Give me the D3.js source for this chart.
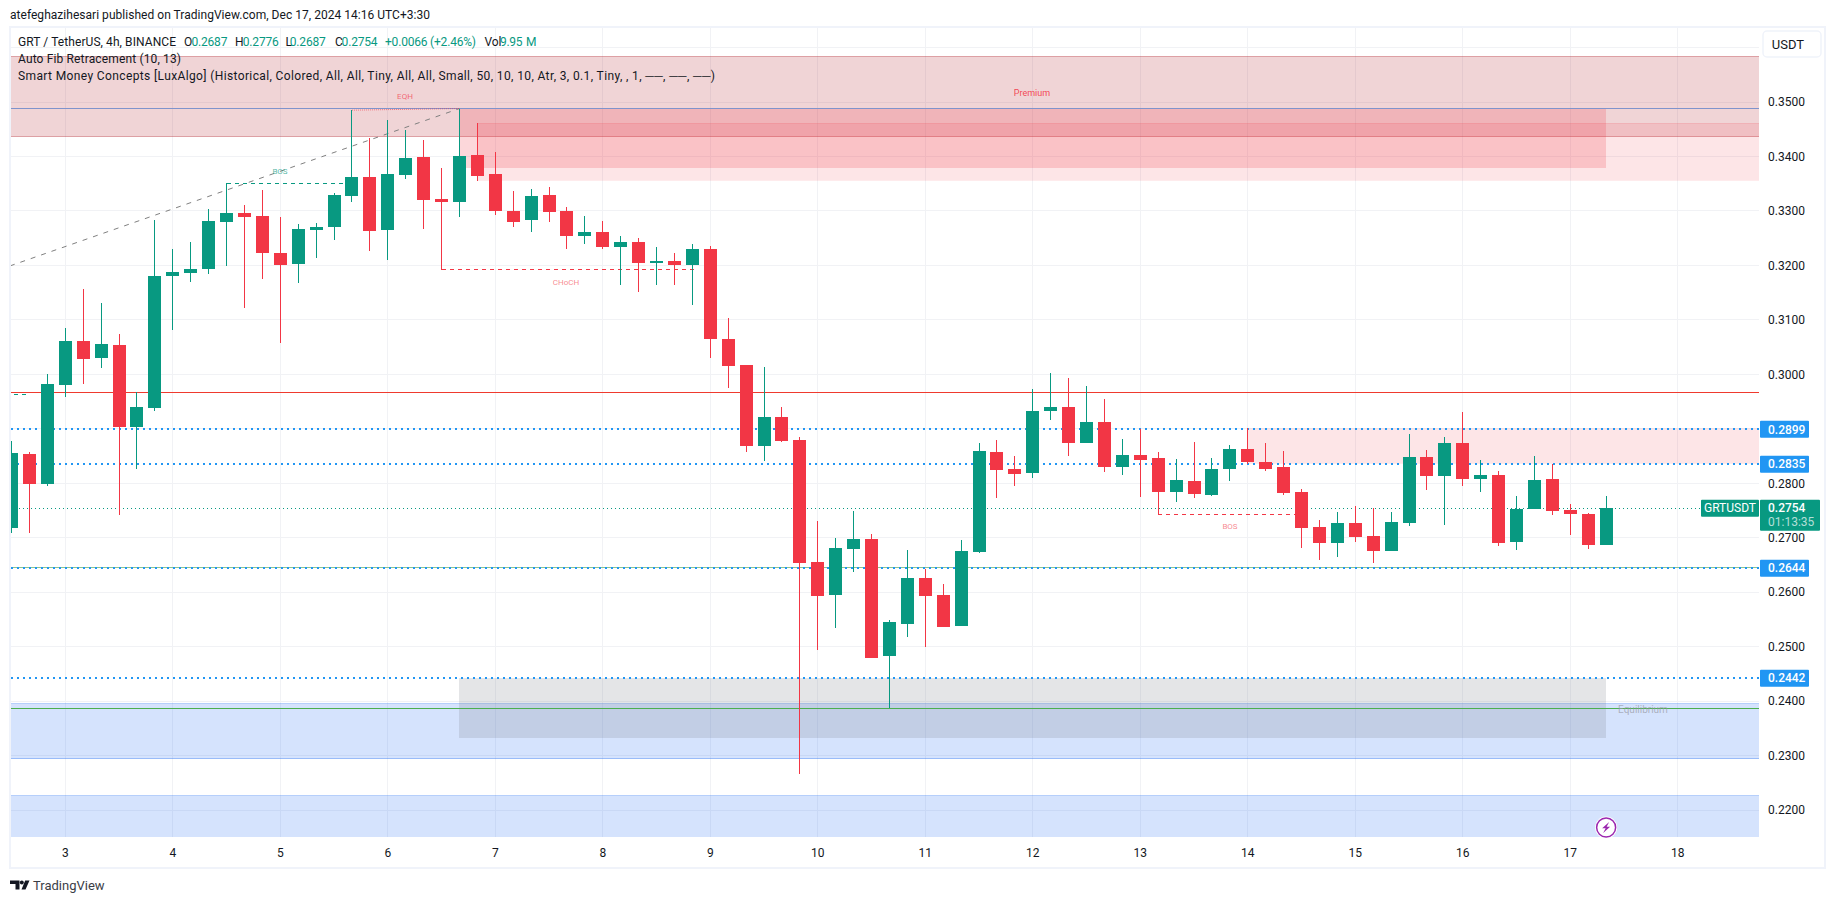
<!DOCTYPE html>
<html>
<head>
<meta charset="utf-8">
<title>GRT / TetherUS</title>
<script src="https://d3js.org/d3.v7.min.js"></script>
<style>
  html, body { margin: 0; padding: 0; background: #fff; overflow: hidden; }
  svg { display: block; font-family: Roboto, sans-serif; }
  .axis text { font-size: 12px; fill: #131722; font-family: Roboto, sans-serif; }
  .axis .domain, .axis line { display: none; }
</style>
</head>
<body>
<svg id="chart" width="1835" height="903"></svg>
<script>

// 4h candles, the first one opens half a day before the "3" tick
var firstCandleDay = 2.5,
  candlesPerDay = 6;

var openPrices = [
  0.2718, 0.2854, 0.2799, 0.2981, 0.3061, 0.3030, 0.3054, 0.2904, 0.2939, 0.3180,
  0.3186, 0.3193, 0.3280, 0.3296, 0.3291, 0.3223, 0.3203, 0.3265, 0.3270, 0.3327,
  0.3362, 0.3265, 0.3366, 0.3399, 0.3322, 0.3316, 0.3403, 0.3368, 0.3300, 0.3283,
  0.3329, 0.3300, 0.3254, 0.3261, 0.3234, 0.3243, 0.3204, 0.3208, 0.3201, 0.3230,
  0.3065, 0.3017, 0.2868, 0.2922, 0.2879, 0.2655, 0.2595, 0.2679, 0.2698, 0.2483,
  0.2541, 0.2626, 0.2595, 0.2538, 0.2674, 0.2857, 0.2826, 0.2819, 0.2933, 0.2940,
  0.2874, 0.2912, 0.2830, 0.2852, 0.2846, 0.2784, 0.2804, 0.2778, 0.2826, 0.2863,
  0.2839, 0.2830, 0.2784, 0.2720, 0.2690, 0.2727, 0.2703, 0.2676, 0.2727, 0.2848,
  0.2813, 0.2874, 0.2808, 0.2815, 0.2692, 0.2753, 0.2808, 0.2751, 0.2743, 0.2687
];

var highPrices = [
  0.2878, 0.2857, 0.3001, 0.3085, 0.3157, 0.3131, 0.3074, 0.2968, 0.3283, 0.3230,
  0.3243, 0.3303, 0.3351, 0.3311, 0.3338, 0.3289, 0.3276, 0.3278, 0.3333, 0.3485,
  0.3434, 0.3467, 0.3449, 0.3430, 0.3379, 0.3488, 0.3461, 0.3408, 0.3337, 0.3340,
  0.3344, 0.3307, 0.3291, 0.3281, 0.3254, 0.3250, 0.3234, 0.3223, 0.3239, 0.3236,
  0.3103, 0.3017, 0.3013, 0.2940, 0.2885, 0.2731, 0.2699, 0.2749, 0.2707, 0.2549,
  0.2677, 0.2642, 0.2615, 0.2696, 0.2874, 0.2879, 0.2850, 0.2973, 0.3002, 0.2993,
  0.2978, 0.2955, 0.2881, 0.2900, 0.2857, 0.2844, 0.2876, 0.2846, 0.2870, 0.2901,
  0.2874, 0.2859, 0.2789, 0.2732, 0.2747, 0.2758, 0.2755, 0.2747, 0.2890, 0.2861,
  0.2885, 0.2931, 0.2843, 0.2822, 0.2777, 0.2850, 0.2835, 0.2762, 0.2745, 0.2776
];

var lowPrices = [
  0.2709, 0.2709, 0.2794, 0.2959, 0.2983, 0.3012, 0.2742, 0.2827, 0.2933, 0.3081,
  0.3169, 0.3184, 0.3199, 0.3122, 0.3175, 0.3057, 0.3168, 0.3214, 0.3247, 0.3316,
  0.3226, 0.3210, 0.3359, 0.3267, 0.3192, 0.3289, 0.3355, 0.3293, 0.3270, 0.3261,
  0.3280, 0.3230, 0.3239, 0.3230, 0.3164, 0.3151, 0.3164, 0.3164, 0.3127, 0.3030,
  0.2975, 0.2857, 0.2841, 0.2876, 0.2266, 0.2494, 0.2534, 0.2637, 0.2479, 0.2387,
  0.2518, 0.2499, 0.2536, 0.2538, 0.2672, 0.2773, 0.2795, 0.2810, 0.2916, 0.2850,
  0.2874, 0.2821, 0.2815, 0.2775, 0.2743, 0.2765, 0.2773, 0.2777, 0.2804, 0.2835,
  0.2822, 0.2778, 0.2681, 0.2659, 0.2665, 0.2692, 0.2654, 0.2676, 0.2721, 0.2788,
  0.2723, 0.2795, 0.2784, 0.2685, 0.2677, 0.2753, 0.2742, 0.2705, 0.2679, 0.2687
];

var closePrices = [
  0.2856, 0.2799, 0.2982, 0.3061, 0.3029, 0.3056, 0.2904, 0.2940, 0.3180, 0.3188,
  0.3193, 0.3281, 0.3296, 0.3289, 0.3223, 0.3201, 0.3267, 0.3270, 0.3329, 0.3362,
  0.3263, 0.3368, 0.3397, 0.3320, 0.3316, 0.3401, 0.3364, 0.3300, 0.3280, 0.3327,
  0.3298, 0.3254, 0.3261, 0.3234, 0.3243, 0.3204, 0.3208, 0.3201, 0.3230, 0.3065,
  0.3015, 0.2868, 0.2922, 0.2878, 0.2654, 0.2593, 0.2681, 0.2698, 0.2479, 0.2545,
  0.2626, 0.2593, 0.2536, 0.2676, 0.2859, 0.2824, 0.2817, 0.2933, 0.2940, 0.2874,
  0.2912, 0.2830, 0.2852, 0.2843, 0.2784, 0.2806, 0.2780, 0.2826, 0.2863, 0.2839,
  0.2826, 0.2782, 0.2718, 0.2690, 0.2727, 0.2701, 0.2676, 0.2729, 0.2848, 0.2813,
  0.2874, 0.2808, 0.2815, 0.2690, 0.2753, 0.2806, 0.2749, 0.2743, 0.2687, 0.2754
];

var priceTicks = [ 0.35, 0.34, 0.33, 0.32, 0.31, 0.30, 0.28, 0.27, 0.26, 0.25, 0.24, 0.23, 0.22 ],
  gridPrices = [ 0.36, 0.35, 0.34, 0.33, 0.32, 0.31, 0.30, 0.29, 0.28, 0.27, 0.26, 0.25, 0.24, 0.23, 0.22 ],
  dayTicks = [ 3, 4, 5, 6, 7, 8, 9, 10, 11, 12, 13, 14, 15, 16, 17, 18 ];

// Horizontal levels shown with a blue tag on the price scale
var levelPrices = [ 0.2899, 0.2835, 0.2644, 0.2442 ];
var lastPrice = 0.2754;

// Fib lines
var fibRedPrice = 0.2967,
  fibBluePrice = 0.3488,
  fibUpperGreenPrice = 0.2646,
  fibLowerGreenPrice = 0.2387;

// Premium / discount boxes running over the whole pane
var premiumTop = 0.3584, premiumBottom = 0.3436;
var discountTops = [ 0.2395, 0.2226 ],
  discountBottoms = [ 0.2294, 0.2149 ];

// Order blocks and shaded boxes
var supplyStartDays = [ 6.8333, 14 ],
  supplyTops = [ 0.3461, 0.2900 ],
  supplyBottoms = [ 0.3356, 0.2837 ];

var upperBoxDays = [ 6.6667, 17.3333 ],
  upperBoxPrices = [ 0.3488, 0.3379 ],
  lowerBoxDays = [ 6.6667, 17.3333 ],
  lowerBoxPrices = [ 0.2442, 0.2332 ];

// Market structure lines: [ startDay, endDay, price ]
var bosUp = [ 4.5, 5.6667, 0.3351 ],
  bosUpLeft = [ 2, 2.6667, 0.2963 ],
  eqh = [ 5.6667, 6.6667, 0.3485, 0.3488 ],
  choch = [ 6.5, 8.8833, 0.3192 ],
  bosDown = [ 13.1667, 14.5, 0.2743 ];

var trendDays = [ 2.485, 6.6667 ],
  trendPrices = [ 0.3199, 0.3488 ];

var legendTitle = 'GRT / TetherUS, 4h, BINANCE',
  fibLegend = 'Auto Fib Retracement (10, 13)',
  smcLegend = 'Smart Money Concepts [LuxAlgo] (Historical, Colored, All, All, Tiny, All, All, Small, 50, 10, 10, Atr, 3, 0.1, Tiny, , 1, ──, ──, ──)',
  publishedText = 'atefeghazihesari published on TradingView.com, Dec 17, 2024 14:16 UTC+3:30';

var green = '#089981',
  red = '#F23645',
  blue = '#2196F3',
  ink = '#131722',
  gridColor = '#f1f2f5';

var svg = d3.select( '#chart' ),
  pane = { left: 11, top: 28, right: 1759, bottom: 837 };

var x = d3.scaleLinear()
  .domain( [ 3, 18 ] )
  .range( [ 65.3, 1677.8 ] );

var y = d3.scaleLinear()
  .domain( [ 0.35, 0.22 ] )
  .range( [ 102, 810 ] );

var candles = openPrices.map( ( o, i ) => {
  return {
    day: firstCandleDay + i / candlesPerDay,
    open: o,
    high: highPrices[ i ],
    low: lowPrices[ i ],
    close: closePrices[ i ]
  };
} );

svg.append( 'defs' ).append( 'clipPath' )
  .attr( 'id', 'pane-clip' )
  .append( 'rect' )
    .attr( 'x', pane.left )
    .attr( 'y', pane.top )
    .attr( 'width', pane.right - pane.left )
    .attr( 'height', pane.bottom - pane.top );

/* Frame */

svg.append( 'rect' )
  .attr( 'x', 10 )
  .attr( 'y', 27 )
  .attr( 'width', 1815 )
  .attr( 'height', 841 )
  .style( 'fill', '#fff' )
  .style( 'stroke', '#f0f3fa' )
  .style( 'stroke-width', 2 );

var plot = svg.append( 'g' ).attr( 'clip-path', 'url(#pane-clip)' );

/* Grid */

plot.selectAll( '.grid-h' )
  .data( gridPrices )
  .enter().append( 'line' )
    .attr( 'class', 'grid-h' )
    .attr( 'x1', pane.left )
    .attr( 'x2', pane.right )
    .attr( 'y1', d => y( d ) )
    .attr( 'y2', d => y( d ) )
    .style( 'stroke', gridColor )
    .style( 'shape-rendering', 'crispEdges' );

plot.selectAll( '.grid-v' )
  .data( dayTicks )
  .enter().append( 'line' )
    .attr( 'class', 'grid-v' )
    .attr( 'x1', d => x( d ) )
    .attr( 'x2', d => x( d ) )
    .attr( 'y1', pane.top )
    .attr( 'y2', pane.bottom )
    .style( 'stroke', gridColor )
    .style( 'shape-rendering', 'crispEdges' );

/* Boxes */

function drawBox( x0, x1, top, bottom, fill, opacity, edge, edgeOpacity ) {
  plot.append( 'rect' )
    .attr( 'x', x0 )
    .attr( 'y', y( top ) )
    .attr( 'width', x1 - x0 )
    .attr( 'height', y( bottom ) - y( top ) )
    .style( 'fill', fill )
    .style( 'fill-opacity', opacity )
    .style( 'shape-rendering', 'crispEdges' );
  if ( edge ) {
    [ top, bottom ].forEach( p => {
      plot.append( 'line' )
        .attr( 'x1', x0 )
        .attr( 'x2', x1 )
        .attr( 'y1', y( p ) )
        .attr( 'y2', y( p ) )
        .style( 'stroke', edge )
        .style( 'stroke-opacity', edgeOpacity )
        .style( 'shape-rendering', 'crispEdges' );
    } );
  }
}

drawBox( pane.left, pane.right, premiumTop, premiumBottom, '#b22833', 0.2, '#b22833', 0.3 );

discountTops.forEach( ( d, i ) => {
  drawBox( pane.left, pane.right, d, discountBottoms[ i ], '#226cf4', 0.19, '#226cf4', 0.33 );
} );

supplyTops.forEach( ( d, i ) => {
  drawBox( x( supplyStartDays[ i ] ), pane.right, d, supplyBottoms[ i ], red, 0.13, red, 0.1 );
} );

drawBox( x( upperBoxDays[ 0 ] ), x( upperBoxDays[ 1 ] ), upperBoxPrices[ 0 ], upperBoxPrices[ 1 ], red, 0.2 );
drawBox( x( lowerBoxDays[ 0 ] ), x( lowerBoxDays[ 1 ] ), lowerBoxPrices[ 0 ], lowerBoxPrices[ 1 ], '#787b86', 0.2 );

/* Levels */

function hline( price, color, width, dash ) {
  plot.append( 'line' )
    .attr( 'x1', pane.left )
    .attr( 'x2', pane.right )
    .attr( 'y1', y( price ) )
    .attr( 'y2', y( price ) )
    .style( 'stroke', color )
    .style( 'stroke-width', width )
    .style( 'stroke-dasharray', dash || null )
    .style( 'shape-rendering', 'crispEdges' );
}

hline( fibBluePrice, '#7f93cc', 1 );
hline( fibRedPrice, '#ef3a2e', 1 );
hline( fibUpperGreenPrice, '#8dc58d', 1 );
hline( fibLowerGreenPrice, '#4caf50', 1 );

levelPrices.forEach( d => hline( d, blue, 2, '2,4' ) );
hline( lastPrice, green, 1, '1,3' );

/* Structure lines */

var trendLine = d3.line()
  .x( d => x( d[ 0 ] ) )
  .y( d => y( d[ 1 ] ) );

plot.append( 'path' )
  .attr( 'd', trendLine( d3.zip( trendDays, trendPrices ) ) )
  .style( 'fill', 'none' )
  .style( 'stroke', '#808080' )
  .style( 'stroke-width', 1 )
  .style( 'stroke-dasharray', '5,6' );

function structure( d, color ) {
  plot.append( 'line' )
    .attr( 'x1', x( d[ 0 ] ) )
    .attr( 'x2', x( d[ 1 ] ) )
    .attr( 'y1', y( d[ 2 ] ) )
    .attr( 'y2', y( d[ 2 ] ) )
    .style( 'stroke', color )
    .style( 'stroke-width', 1 )
    .style( 'stroke-dasharray', '4,4' )
    .style( 'shape-rendering', 'crispEdges' );
}

structure( bosUp, green );
structure( bosUpLeft, green );
structure( choch, red );
structure( bosDown, red );

plot.append( 'line' )
  .attr( 'x1', x( eqh[ 0 ] ) )
  .attr( 'x2', x( eqh[ 1 ] ) )
  .attr( 'y1', y( eqh[ 2 ] ) )
  .attr( 'y2', y( eqh[ 3 ] ) )
  .style( 'stroke', red )
  .style( 'stroke-width', 1 )
  .style( 'stroke-opacity', 0.6 )
  .style( 'stroke-dasharray', '1,1' );

function smallLabel( text, px, py, color, size, opacity ) {
  plot.append( 'text' )
    .attr( 'x', px )
    .attr( 'y', py )
    .attr( 'dy', '0.35em' )
    .attr( 'text-anchor', 'middle' )
    .style( 'font-size', size + 'px' )
    .style( 'fill', color )
    .style( 'fill-opacity', opacity )
    .text( text );
}

smallLabel( 'EQH', 405, 96, red, 8, 0.7 );
smallLabel( 'BOS', 280, 171, green, 8, 0.7 );
smallLabel( 'CHoCH', 566, 282.5, red, 8, 0.6 );
smallLabel( 'BOS', 1230, 526.5, red, 8, 0.6 );
smallLabel( 'Premium', 1032, 93, red, 9, 0.9 );
smallLabel( 'Equilibrium', 1643, 709, '#9598a1', 10, 0.7 );

/* Candles */

var candle = plot.selectAll( '.candle' )
  .data( candles )
  .enter().append( 'g' )
    .attr( 'class', 'candle' )
    .style( 'fill', d => d.close >= d.open ? green : red )
    .style( 'shape-rendering', 'crispEdges' );

candle.append( 'rect' )
  .attr( 'x', d => Math.floor( x( d.day ) ) )
  .attr( 'y', d => y( d.high ) )
  .attr( 'width', 1 )
  .attr( 'height', d => y( d.low ) - y( d.high ) );

candle.append( 'rect' )
  .attr( 'x', d => Math.floor( x( d.day ) ) - 6 )
  .attr( 'y', d => y( Math.max( d.open, d.close ) ) )
  .attr( 'width', 13 )
  .attr( 'height', d => Math.max( 1, Math.abs( y( d.open ) - y( d.close ) ) ) );

/* Axes */

svg.append( 'g' )
  .attr( 'class', 'axis' )
  .attr( 'transform', 'translate(1768,0)' )
  .call( d3.axisRight( y )
    .tickValues( priceTicks )
    .tickSize( 0 )
    .tickPadding( 0 )
    .tickFormat( d3.format( '.4f' ) ) );

svg.append( 'g' )
  .attr( 'class', 'axis' )
  .attr( 'transform', 'translate(-0.5,848)' )
  .call( d3.axisBottom( x )
    .tickValues( dayTicks )
    .tickSize( 0 )
    .tickPadding( 0 )
    .tickFormat( d3.format( 'd' ) ) );

/* Price tags */

var tags = svg.selectAll( '.level-tag' )
  .data( levelPrices )
  .enter().append( 'g' )
    .attr( 'class', 'level-tag' )
    .attr( 'transform', d => 'translate(1760,' + y( d ) + ')' );

tags.append( 'rect' )
  .attr( 'y', -8.5 )
  .attr( 'width', 49 )
  .attr( 'height', 17 )
  .attr( 'rx', 1 )
  .style( 'fill', blue );

tags.append( 'text' )
  .attr( 'x', 8 )
  .attr( 'dy', '0.35em' )
  .style( 'font-size', '12px' )
  .style( 'font-weight', 500 )
  .style( 'fill', '#fff' )
  .text( d => d3.format( '.4f' )( d ) );

var lastTag = svg.append( 'g' )
  .attr( 'transform', 'translate(0,' + y( lastPrice ) + ')' );

lastTag.append( 'rect' )
  .attr( 'x', 1701 )
  .attr( 'y', -8.5 )
  .attr( 'width', 58 )
  .attr( 'height', 17 )
  .attr( 'rx', 1 )
  .style( 'fill', green );

lastTag.append( 'text' )
  .attr( 'x', 1730 )
  .attr( 'dy', '0.35em' )
  .attr( 'text-anchor', 'middle' )
  .style( 'font-size', '12px' )
  .style( 'fill', '#fff' )
  .text( 'GRTUSDT' );

lastTag.append( 'rect' )
  .attr( 'x', 1760 )
  .attr( 'y', -8.5 )
  .attr( 'width', 60 )
  .attr( 'height', 31 )
  .attr( 'rx', 1 )
  .style( 'fill', green );

lastTag.append( 'text' )
  .attr( 'x', 1768 )
  .attr( 'dy', '0.35em' )
  .style( 'font-size', '12px' )
  .style( 'font-weight', 500 )
  .style( 'fill', '#fff' )
  .text( d3.format( '.4f' )( lastPrice ) );

lastTag.append( 'text' )
  .attr( 'x', 1768 )
  .attr( 'y', 14 )
  .attr( 'dy', '0.35em' )
  .style( 'font-size', '12px' )
  .style( 'fill', '#fff' )
  .style( 'fill-opacity', 0.7 )
  .text( '01:13:35' );

/* USDT button */

svg.append( 'rect' )
  .attr( 'x', 1763 )
  .attr( 'y', 31 )
  .attr( 'width', 58 )
  .attr( 'height', 26 )
  .attr( 'rx', 4 )
  .style( 'fill', '#fff' )
  .style( 'stroke', '#f0f3fa' )
  .style( 'stroke-width', 1.5 );

svg.append( 'text' )
  .attr( 'x', 1788 )
  .attr( 'y', 44 )
  .attr( 'dy', '0.35em' )
  .attr( 'text-anchor', 'middle' )
  .style( 'font-size', '13px' )
  .style( 'fill', ink )
  .text( 'USDT' );

/* Legend */

function legendText( text, px, py, color, len ) {
  var t = svg.append( 'text' )
    .attr( 'x', px )
    .attr( 'y', py )
    .attr( 'dy', '0.35em' )
    .style( 'font-size', '12px' )
    .style( 'fill', color )
    .text( text );
  if ( len ) t.attr( 'textLength', len );
}

legendText( publishedText, 10, 14.5, ink, 420 );
legendText( legendTitle, 18, 42, ink, 158 );

var ohlcLabels = [ 'O', 'H', 'L', 'C' ],
  ohlcX = [ 184, 235, 285.5, 335 ],
  ohlcValueX = [ 191.4, 242.8, 289.8, 341.6 ],
  last = candles[ candles.length - 1 ],
  ohlcValues = [ last.open, last.high, last.low, last.close ];

ohlcLabels.forEach( ( d, i ) => {
  legendText( d, ohlcX[ i ], 42, ink );
  legendText( d3.format( '.4f' )( ohlcValues[ i ] ), ohlcValueX[ i ], 42, green, 36 );
} );

legendText( '+0.0066 (+2.46%)', 385, 42, green, 91 );
legendText( 'Vol', 484.4, 42, ink );
legendText( '9.95', 500, 42, green, 22.5 );
legendText( 'M', 526, 42, green );
legendText( fibLegend, 18, 59, ink, 163 );
legendText( smcLegend, 18, 76, ink, 697 );

/* Lightning mark over the last candle */

var mark = svg.append( 'g' )
  .attr( 'transform', 'translate(' + x( last.day ) + ',827.5)' );

mark.append( 'circle' )
  .attr( 'r', 11 )
  .style( 'fill', '#fff' );

mark.append( 'circle' )
  .attr( 'r', 9.5 )
  .style( 'fill', '#fff' )
  .style( 'stroke', '#9c27b0' )
  .style( 'stroke-width', 1.5 );

mark.append( 'path' )
  .attr( 'd', 'M3,-5.5 L-4,0.8 L-0.5,0.8 L-3,5.5 L4,-0.8 L0.5,-0.8 Z' )
  .style( 'fill', '#9c27b0' );

/* TradingView logo */

svg.append( 'path' )
  .attr( 'd', 'M10,880.5 H19.5 V889.5 H15.5 V884 H10 Z M27,880.5 H29.5 L25.5,889.5 H21.5 L25.2,880.5 Z' )
  .style( 'fill', ink );

svg.append( 'circle' )
  .attr( 'cx', 21.8 )
  .attr( 'cy', 882.5 )
  .attr( 'r', 2 )
  .style( 'fill', ink );

svg.append( 'text' )
  .attr( 'x', 33 )
  .attr( 'y', 885.5 )
  .attr( 'dy', '0.35em' )
  .style( 'font-size', '13px' )
  .style( 'fill', '#3b3e47' )
  .text( 'TradingView' );

</script>
</body>
</html>
